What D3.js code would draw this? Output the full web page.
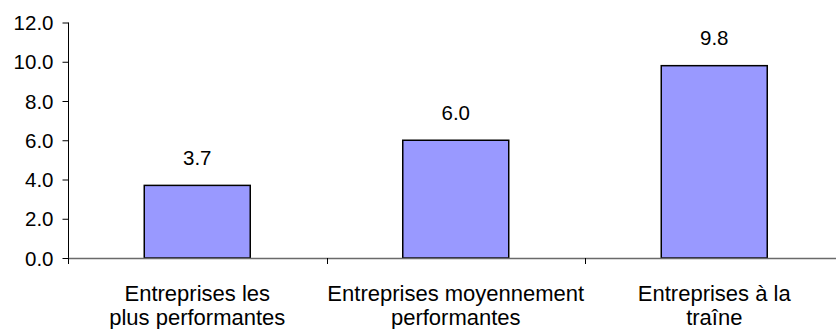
<!DOCTYPE html>
<html><head><meta charset="utf-8">
<script src="https://cdn.jsdelivr.net/npm/d3@7"></script>
<style>
body{margin:0;background:#fff;}
text{font-family:"Liberation Sans",Arial,sans-serif;fill:#000;}
</style></head>
<body><svg id="c" width="836" height="329"></svg>
<script>
const categories = [["Entreprises les","plus performantes"],["Entreprises moyennement","performantes"],["Entreprises à la","traîne"]];
const values = [3.7, 6.0, 9.8];
const yTicks = [0, 2, 4, 6, 8, 10, 12];

const svg = d3.select("#c");
const x = d3.scaleBand().domain(d3.range(values.length)).range([68, 843.5]).paddingInner(0.59).paddingOuter(0.295);
const y = d3.scaleLinear().domain([0, 12]).range([258, 22.5]);

// bars
svg.selectAll("rect.bar").data(values).enter().append("rect")
  .attr("x", (d,i)=>x(i)).attr("y", d=>y(d))
  .attr("width", x.bandwidth()).attr("height", d=>y(0)-y(d))
  .attr("fill", "#9999FF").attr("stroke", "#000").attr("stroke-width", 1.5);

// value labels
svg.selectAll("text.val").data(values).enter().append("text")
  .attr("x", (d,i)=>x(i)+x.bandwidth()/2).attr("y", d=>y(d)-20.5)
  .attr("text-anchor","middle").attr("font-size", 20.5)
  .text(d=>d.toFixed(1));

// y axis
const yAxis = d3.axisLeft(y).tickValues(yTicks).tickSize(6).tickPadding(9).tickFormat(d3.format(".1f"));
const gy = svg.append("g").attr("transform","translate(68.5,0)").call(yAxis);
gy.select(".domain").attr("stroke","#000").attr("d","M0,22.5V258");
gy.selectAll(".tick line").attr("stroke","#000");
gy.selectAll(".tick text").attr("font-size",20.5).attr("font-family","Liberation Sans, Arial, sans-serif").attr("fill","#000").attr("dy","0.35em");

// x axis line
svg.append("line").attr("x1",68).attr("x2",836).attr("y1",258.5).attr("y2",258.5).attr("stroke","#6a6a6a").attr("stroke-width",1.5);
// category boundary ticks
const bounds = d3.range(values.length).map(i=>x(i) - x.step()*x.paddingInner()/2);
bounds[0] = 68;
svg.selectAll("line.ct").data(bounds).enter().append("line")
  .attr("x1",d=>Math.round(d)+0.5).attr("x2",d=>Math.round(d)+0.5).attr("y1",258).attr("y2",264)
  .attr("stroke","#000");

// category labels
const cl = svg.selectAll("text.cat").data(categories).enter().append("text")
  .attr("text-anchor","middle").attr("font-size",22)
  .attr("transform",(d,i)=>`translate(${x(i)+x.bandwidth()/2},0)`);
cl.selectAll("tspan").data(d=>d).enter().append("tspan")
  .attr("x",0).attr("y",(d,j)=>300.5+j*24.5).text(d=>d);
</script></body></html>
